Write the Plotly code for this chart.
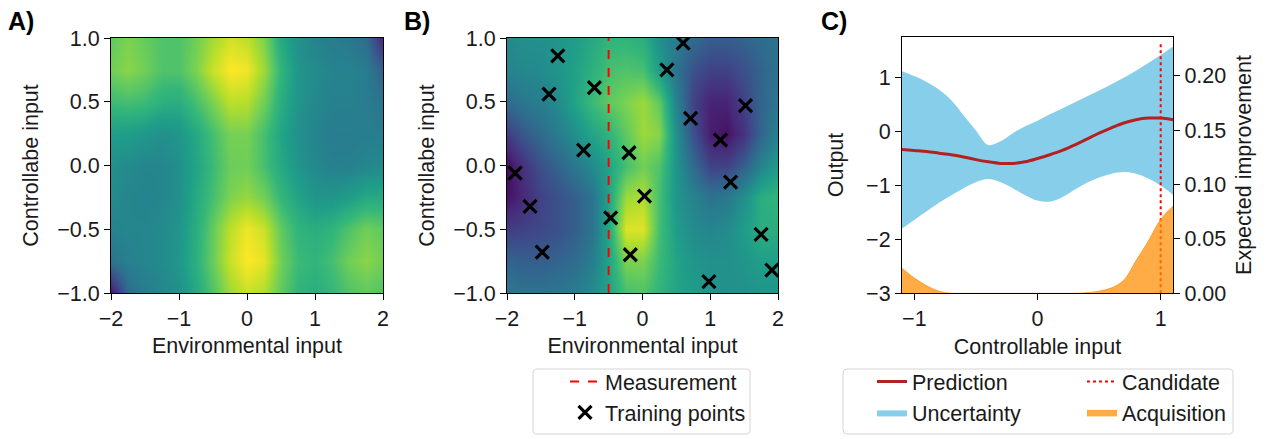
import plotly.graph_objects as go

# ---------------- data ----------------
env_x = [-2.0, -1.75, -1.5, -1.25, -1.0, -0.75, -0.5, -0.25, 0.0,
         0.25, 0.5, 0.75, 1.0, 1.25, 1.5, 1.75, 2.0]
ctrl_y = [-1.0, -0.75, -0.5, -0.25, 0.0, 0.25, 0.5, 0.75, 1.0]

# Panel A: true function (normalised 0..1), rows = ctrl_y (bottom -> top)
field_a = [
    [0.05, 0.35, 0.42, 0.46, 0.50, 0.60, 0.72, 0.85, 0.92, 0.88, 0.75, 0.65, 0.62, 0.66, 0.72, 0.75, 0.72],
    [0.38, 0.44, 0.46, 0.48, 0.53, 0.63, 0.77, 0.92, 1.00, 0.96, 0.78, 0.68, 0.65, 0.70, 0.78, 0.82, 0.78],
    [0.45, 0.46, 0.46, 0.48, 0.52, 0.62, 0.76, 0.90, 0.98, 0.92, 0.75, 0.65, 0.62, 0.65, 0.72, 0.78, 0.75],
    [0.48, 0.46, 0.45, 0.46, 0.50, 0.60, 0.70, 0.80, 0.84, 0.78, 0.66, 0.58, 0.52, 0.52, 0.55, 0.60, 0.60],
    [0.50, 0.48, 0.46, 0.46, 0.50, 0.58, 0.68, 0.77, 0.78, 0.70, 0.60, 0.52, 0.47, 0.44, 0.44, 0.46, 0.48],
    [0.55, 0.55, 0.53, 0.50, 0.52, 0.60, 0.70, 0.79, 0.79, 0.70, 0.58, 0.50, 0.45, 0.42, 0.42, 0.43, 0.42],
    [0.68, 0.70, 0.68, 0.63, 0.62, 0.70, 0.80, 0.90, 0.89, 0.78, 0.62, 0.52, 0.47, 0.44, 0.44, 0.42, 0.38],
    [0.78, 0.82, 0.78, 0.72, 0.72, 0.80, 0.92, 1.00, 0.98, 0.85, 0.65, 0.52, 0.48, 0.45, 0.45, 0.42, 0.30],
    [0.75, 0.80, 0.76, 0.72, 0.72, 0.78, 0.86, 0.93, 0.90, 0.80, 0.60, 0.50, 0.45, 0.42, 0.40, 0.35, 0.10],
]

# Panel B: model estimate (normalised 0..1)
field_b = [
    [0.40, 0.38, 0.38, 0.40, 0.42, 0.48, 0.58, 0.70, 0.72, 0.65, 0.58, 0.55, 0.52, 0.50, 0.50, 0.52, 0.52],
    [0.32, 0.30, 0.30, 0.32, 0.35, 0.42, 0.58, 0.80, 0.80, 0.68, 0.58, 0.52, 0.50, 0.50, 0.52, 0.56, 0.56],
    [0.18, 0.20, 0.22, 0.25, 0.30, 0.38, 0.60, 0.95, 0.95, 0.70, 0.55, 0.48, 0.46, 0.48, 0.55, 0.62, 0.62],
    [0.05, 0.12, 0.20, 0.25, 0.30, 0.38, 0.58, 0.85, 0.88, 0.70, 0.52, 0.45, 0.38, 0.40, 0.50, 0.62, 0.65],
    [0.03, 0.15, 0.25, 0.32, 0.40, 0.48, 0.58, 0.70, 0.78, 0.72, 0.52, 0.35, 0.20, 0.20, 0.30, 0.45, 0.55],
    [0.18, 0.28, 0.35, 0.42, 0.50, 0.58, 0.65, 0.75, 0.85, 0.82, 0.50, 0.25, 0.08, 0.05, 0.15, 0.32, 0.45],
    [0.35, 0.40, 0.43, 0.48, 0.58, 0.68, 0.75, 0.80, 0.85, 0.75, 0.45, 0.20, 0.10, 0.10, 0.20, 0.32, 0.40],
    [0.45, 0.47, 0.48, 0.52, 0.57, 0.63, 0.70, 0.72, 0.70, 0.55, 0.38, 0.25, 0.20, 0.20, 0.25, 0.32, 0.38],
    [0.48, 0.50, 0.50, 0.52, 0.55, 0.60, 0.65, 0.65, 0.62, 0.50, 0.42, 0.35, 0.30, 0.30, 0.32, 0.35, 0.38],
]

train_x = [-1.25, -1.38, -0.71, -0.87, -1.88, -1.66, -1.48, -0.47, -0.20, 0.03,
           -0.18, 0.60, 0.36, 0.71, 1.15, 1.52, 1.30, 1.75, 1.91, 0.98]
train_y = [0.86, 0.56, 0.61, 0.12, -0.06, -0.32, -0.68, -0.41, 0.10, -0.24,
           -0.70, 0.96, 0.75, 0.37, 0.20, 0.47, -0.13, -0.54, -0.82, -0.91]
measurement_x = -0.5

# Panel C
ctrl_x = [-1.1, -1.0, -0.9, -0.8, -0.7, -0.6, -0.5, -0.4, -0.3, -0.2, -0.1, 0.0,
          0.1, 0.2, 0.3, 0.4, 0.5, 0.6, 0.7, 0.8, 0.9, 1.0, 1.1]
pred_mean = [-0.33, -0.35, -0.37, -0.40, -0.43, -0.47, -0.52, -0.56, -0.59, -0.59, -0.56, -0.50,
             -0.43, -0.35, -0.25, -0.14, -0.03, 0.07, 0.16, 0.22, 0.25, 0.25, 0.22]
upper = [1.12, 1.03, 0.92, 0.78, 0.58, 0.30, 0.02, -0.25, -0.18, -0.03, 0.10, 0.20,
         0.32, 0.43, 0.54, 0.65, 0.76, 0.88, 1.00, 1.13, 1.27, 1.42, 1.58]
lower = [-1.80, -1.64, -1.48, -1.32, -1.18, -1.05, -0.94, -0.88, -0.94, -1.05, -1.18, -1.28,
         -1.30, -1.22, -1.08, -0.95, -0.85, -0.78, -0.75, -0.78, -0.87, -1.00, -1.17]
acquisition = [0.023, 0.014, 0.007, 0.002, 0.0, 0.0, 0.0, 0.0, 0.0, 0.0, 0.0, 0.0,
               0.0, 0.0, 0.0, 0.0005, 0.002, 0.005, 0.012, 0.030, 0.048, 0.068, 0.080]
candidate_x = 1.0
candidate_top = 1.65

# ---------------- figure ----------------
W, H = 1275, 439
FONT = "Liberation Sans, Arial, sans-serif"
FS = 21.5
TXT = "#1a1a1a"


def px_x(p):
    return p / W


def px_y(p):
    return 1 - p / H


fig = go.Figure()

fig.add_trace(go.Heatmap(x=env_x, y=ctrl_y, z=field_a, colorscale="Viridis", zmin=0, zmax=1,
                         zsmooth="best", showscale=False, xaxis="x", yaxis="y", hoverinfo="skip"))
fig.add_trace(go.Heatmap(x=env_x, y=ctrl_y, z=field_b, colorscale="Viridis", zmin=0, zmax=1,
                         zsmooth="best", showscale=False, xaxis="x2", yaxis="y2", hoverinfo="skip"))

fig.add_trace(go.Scatter(x=[measurement_x, measurement_x], y=[ctrl_y[0], ctrl_y[-1]], mode="lines",
                         line=dict(color="red", dash="dash", width=2), name="Measurement",
                         xaxis="x2", yaxis="y2", legend="legend"))
fig.add_trace(go.Scatter(x=train_x, y=train_y, mode="markers", name="Training points",
                         marker=dict(symbol="x-thin", size=13, color="black",
                                     line=dict(width=3.2, color="black")),
                         xaxis="x2", yaxis="y2", legend="legend"))

# Panel C
fig.add_trace(go.Scatter(x=ctrl_x, y=lower, mode="lines", line=dict(width=0, shape="spline"),
                         showlegend=False, xaxis="x3", yaxis="y3", hoverinfo="skip"))
fig.add_trace(go.Scatter(x=ctrl_x, y=upper, mode="lines", line=dict(width=0, shape="spline"),
                         fill="tonexty", fillcolor="#87ceeb", name="Uncertainty",
                         xaxis="x3", yaxis="y3", legend="legend2", legendrank=2))
fig.add_trace(go.Scatter(x=ctrl_x, y=acquisition, mode="lines",
                         line=dict(width=0.8, color="rgba(255,140,0,0.85)", shape="spline"),
                         fill="tozeroy", fillcolor="rgba(255,140,0,0.72)", name="Acquisition",
                         xaxis="x3", yaxis="y4", legend="legend3", legendrank=2))
fig.add_trace(go.Scatter(x=ctrl_x, y=pred_mean, mode="lines",
                         line=dict(color="#b22222", width=3, shape="spline"), name="Prediction",
                         xaxis="x3", yaxis="y3", legend="legend2", legendrank=1))
fig.add_trace(go.Scatter(x=[candidate_x, candidate_x], y=[-3, candidate_top], mode="lines",
                         line=dict(color="red", dash="dot", width=2), name="Candidate",
                         xaxis="x3", yaxis="y3", legend="legend3", legendrank=1))

axis_common = dict(showline=True, linecolor="black", linewidth=1.2, mirror=True,
                   ticks="outside", ticklen=6, tickwidth=1.2, tickcolor="black",
                   showgrid=False, zeroline=False, automargin=False,
                   tickfont=dict(family=FONT, size=FS, color=TXT),
                   title_font=dict(family=FONT, size=FS, color=TXT))

ydom_ab = [px_y(293), px_y(38)]
ydom_c = [px_y(293.3), px_y(36.7)]

leg_common = dict(xanchor="left", yanchor="top", bgcolor="rgba(0,0,0,0)", borderwidth=0,
                  font=dict(family=FONT, size=FS, color=TXT), traceorder="normal")

fig.update_layout(
    template="none",
    width=W, height=H, margin=dict(l=0, r=0, t=0, b=0, autoexpand=False),
    plot_bgcolor="white", paper_bgcolor="white",
    font=dict(family=FONT, size=FS, color=TXT),
    xaxis=dict(axis_common, domain=[px_x(111), px_x(383)], range=[-2, 2], tickvals=[-2, -1, 0, 1, 2],
               title=dict(text="Environmental input", standoff=8), anchor="y"),
    yaxis=dict(axis_common, domain=ydom_ab, range=[-1, 1], tickvals=[-1, -0.5, 0, 0.5, 1],
               tickformat=".1f", title=dict(text="Controllabe input", standoff=12), anchor="x"),
    xaxis2=dict(axis_common, domain=[px_x(507), px_x(778)], range=[-2, 2], tickvals=[-2, -1, 0, 1, 2],
                title=dict(text="Environmental input", standoff=8), anchor="y2"),
    yaxis2=dict(axis_common, domain=ydom_ab, range=[-1, 1], tickvals=[-1, -0.5, 0, 0.5, 1],
                tickformat=".1f", title=dict(text="Controllabe input", standoff=12), anchor="x2"),
    xaxis3=dict(axis_common, domain=[px_x(902), px_x(1173)], range=[-1.1, 1.1], tickvals=[-1, 0, 1],
                title=dict(text="Controllable input", standoff=8), anchor="y3"),
    yaxis3=dict(axis_common, domain=ydom_c, range=[-3, 1.76], tickvals=[-3, -2, -1, 0, 1],
                title=dict(text="Output", standoff=16), anchor="x3"),
    yaxis4=dict(axis_common, domain=ydom_c, range=[0, 0.236], tickvals=[0, 0.05, 0.1, 0.15, 0.2],
                tickformat=".2f", overlaying="y3", side="right", anchor="x3", mirror=False,
                title=dict(text="Expected improvement", standoff=10)),
    legend=dict(leg_common, x=px_x(565), y=px_y(361)),
    legend2=dict(leg_common, x=px_x(872), y=px_y(361)),
    legend3=dict(leg_common, x=px_x(1082), y=px_y(361)),
)


def rounded_box(x0, y0, x1, y1, r=4):
    X = lambda p: "%.5f" % px_x(p)
    Y = lambda p: "%.5f" % px_y(p)
    return ("M%s,%s L%s,%s Q%s,%s %s,%s L%s,%s Q%s,%s %s,%s L%s,%s Q%s,%s %s,%s L%s,%s Q%s,%s %s,%s Z" % (
        X(x0 + r), Y(y0), X(x1 - r), Y(y0), X(x1), Y(y0), X(x1), Y(y0 + r),
        X(x1), Y(y1 - r), X(x1), Y(y1), X(x1 - r), Y(y1),
        X(x0 + r), Y(y1), X(x0), Y(y1), X(x0), Y(y1 - r),
        X(x0), Y(y0 + r), X(x0), Y(y0), X(x0 + r), Y(y0)))


for bx in [(533, 369, 750, 434), (843, 369, 1233, 434)]:
    fig.add_shape(type="path", path=rounded_box(*bx), xref="paper", yref="paper",
                  line=dict(color="#d5d5d5", width=1), fillcolor="rgba(255,255,255,0.8)", layer="below")

for label, xp in [("A)", 6), ("B)", 402), ("C)", 819)]:
    fig.add_annotation(text="<b>%s</b>" % label, x=px_x(xp), y=px_y(21), xref="paper", yref="paper",
                       xanchor="left", yanchor="middle", showarrow=False,
                       font=dict(family=FONT, size=25, color="black"))

fig.write_html("out.html", config={"displayModeBar": False},
               post_script="document.body.style.margin='0';")
